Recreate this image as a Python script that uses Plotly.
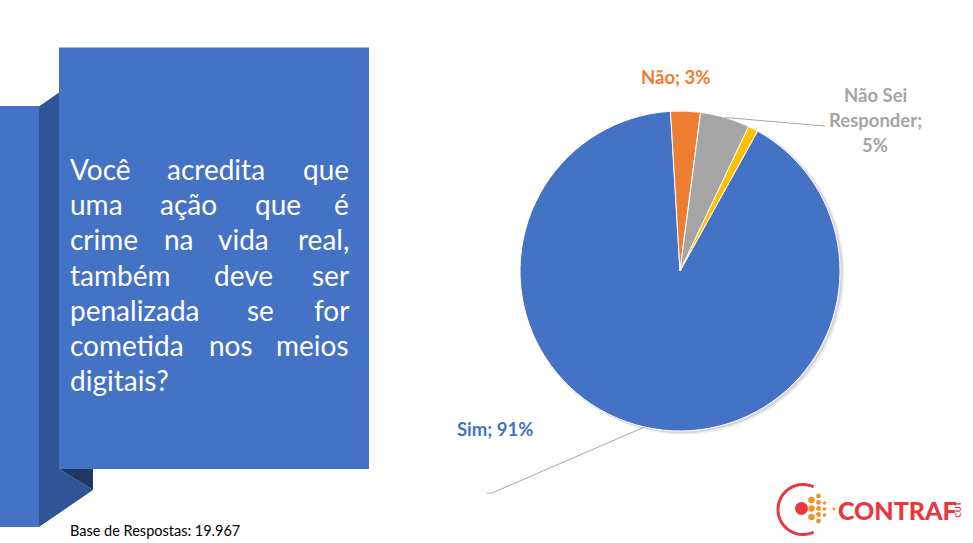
import math
import plotly.graph_objects as go

# ---------------- data ----------------
categories = ["Sim", "Não", "Não Sei Responder", "Outros"]
values = [91, 3, 5, 1]
slice_colors = ["#4472C4", "#ED7D31", "#A5A5A5", "#FFC000"]
question_lines = [
    ["Você", "acredita", "que"],
    ["uma", "ação", "que", "é"],
    ["crime", "na", "vida", "real,"],
    ["também", "deve", "ser"],
    ["penalizada", "se", "for"],
    ["cometida", "nos", "meios"],
    ["digitais?"],
]
base_text = "Base de Respostas: 19.967"

# ---------------- layout helpers ----------------
W, H = 973, 543
def X(p): return p / W
def Y(p): return 1 - p / H

# pie geometry (pixels)
PX0, PX1, PY0, PY1 = 520, 840, 111, 431
CX, CY = (PX0 + PX1) / 2, (PY0 + PY1) / 2
R = (PX1 - PX0) / 2
ROT = 29

total = sum(values)
pcts = [v / total * 100 for v in values]

fig = go.Figure()
fig.add_trace(go.Pie(
    labels=categories, values=values, sort=False, direction="clockwise",
    rotation=ROT, marker=dict(colors=slice_colors, line=dict(color="white", width=1)),
    textinfo="none", hoverinfo="label+percent", showlegend=False,
    domain=dict(x=[X(PX0), X(PX1)], y=[Y(PY1), Y(PY0)]),
))

shapes = []
# left decorative blocks
def poly(pts, color):
    d = "M " + " L ".join(f"{X(a)},{Y(b)}" for a, b in pts) + " Z"
    return dict(type="path", xref="paper", yref="paper", path=d,
                fillcolor=color, line=dict(width=0), layer="below")

shapes.append(poly([(0, 106), (39, 106), (39, 527), (0, 527)], "#4472C4"))
shapes.append(poly([(39, 106.5), (59, 92.5), (59, 469), (93, 490), (39, 527)], "#2F5597"))
shapes.append(poly([(59, 469), (93, 469), (93, 490)], "#203864"))
shapes.append(poly([(59, 47.5), (369, 47.5), (369, 469), (59, 469)], "#4472C4"))

# pie shadow
for dx, dy, rr, a in [(3, 2, R + 1.5, 0.06), (2, 1.5, R + 0.8, 0.10)]:
    shapes.append(dict(type="circle", xref="paper", yref="paper",
                       x0=X(CX - rr + dx), x1=X(CX + rr + dx),
                       y0=Y(CY + rr + dy), y1=Y(CY - rr + dy),
                       fillcolor=f"rgba(0,0,0,{a})", line=dict(width=0), layer="below"))

# slice mid angles (clockwise from 12 o'clock)
mids = []
acc = ROT
for v in values:
    span = v / total * 360
    mids.append(acc + span / 2)
    acc += span
def edge(ang):
    t = math.radians(ang)
    return CX + R * math.sin(t), CY - R * math.cos(t)

def seg(p, q):
    return dict(type="line", xref="paper", yref="paper",
                x0=X(p[0]), y0=Y(p[1]), x1=X(q[0]), y1=Y(q[1]),
                line=dict(color="#A6A6A6", width=1))
shapes.append(seg(edge(mids[0]), (492, 493)))
shapes.append(seg((492, 493), (487, 493)))
shapes.append(seg(edge(mids[2]), (825, 126)))

# logo
arc_pts = []
for k in range(0, 61):
    th = math.radians(25 - k * (230 / 60))
    arc_pts.append((803 + 25 * math.sin(th), 509.5 - 25 * math.cos(th)))
shapes.append(dict(type="path", xref="paper", yref="paper",
                   path="M " + " L ".join(f"{X(a)},{Y(b)}" for a, b in arc_pts),
                   line=dict(color="#E8383D", width=3)))
def dot(x, y, r, c):
    return dict(type="circle", xref="paper", yref="paper",
                x0=X(x - r), x1=X(x + r), y0=Y(y + r), y1=Y(y - r),
                fillcolor=c, line=dict(width=0))
shapes.append(dot(801.5, 508.5, 6.5, "#E8383D"))
for (x, y, r) in [(811.5, 500, 3.3), (811.5, 508.5, 3.3), (811.5, 517, 3.3),
                  (818.5, 496, 2.4), (818.5, 502.5, 2.4), (818.5, 508.5, 2.4),
                  (818.5, 514.5, 2.4), (818.5, 521, 2.4),
                  (824.5, 503, 1.8), (824.5, 509, 1.8), (824.5, 515, 1.8),
                  (834, 509, 1.5)]:
    shapes.append(dot(x, y, r, "#F0922E"))

annotations = []
def ann(text, x, y, size, color, xanchor="center", weight="normal", yanchor="middle", angle=0):
    annotations.append(dict(text=text, x=X(x), y=Y(y), xref="paper", yref="paper",
                            xanchor=xanchor, yanchor=yanchor, showarrow=False, textangle=angle,
                            font=dict(family="Lato", size=size, color=color, weight=weight)))

# question text (justified by placing words)
word_x = [
    [68, 215.5, 351],
    [68, 188.7, 277.5, 351],
    [68, 179, 243.7, 351],
    [68, 243.3, 351],
    [68, 260, 351],
    [68, 230.8, 351],
    [68],
]
for i, words in enumerate(question_lines):
    yc = 179.5 + 35.3 * i - 10.8
    n = len(words)
    for j, w in enumerate(words):
        if j == 0:
            xa = "left"
        elif j == n - 1:
            xa = "right"
        else:
            xa = "center"
        ann(w, word_x[i][j], yc, 28, "white", xanchor=xa, weight=400)

ann(base_text, 68, 530.5, 14.5, "#000000", xanchor="left")

# pie labels
lab = [f"{categories[i]}; {pcts[i]:.0f}%" for i in range(3)]
ann(lab[0], 494.7, 429.4, 18.5, slice_colors[0], weight="bold")
ann(lab[1], 675, 77.4, 18.5, slice_colors[1], weight="bold")
parts = lab[2].split(" ")
nsr_lines = [" ".join(parts[:2]), parts[2], parts[3]]
for k, t in enumerate(nsr_lines):
    ann(t, 875, 94.5 + 25 * k, 18.5, "#A5A5A5", weight="bold")

# logo text
ann("CONTRAF", 897.5, 509.5, 25, "#E8383D", weight=900)
ann("CUT", 957, 509.5, 8, "#E8383D", weight="bold", angle=-90)

fig.update_layout(
    width=W, height=H, margin=dict(l=0, r=0, t=0, b=0),
    paper_bgcolor="white", plot_bgcolor="white",
    shapes=shapes, annotations=annotations, showlegend=False,
)
fig.write_html("out.html", config={"displayModeBar": False},
               post_script="document.body.style.margin='0px';")
